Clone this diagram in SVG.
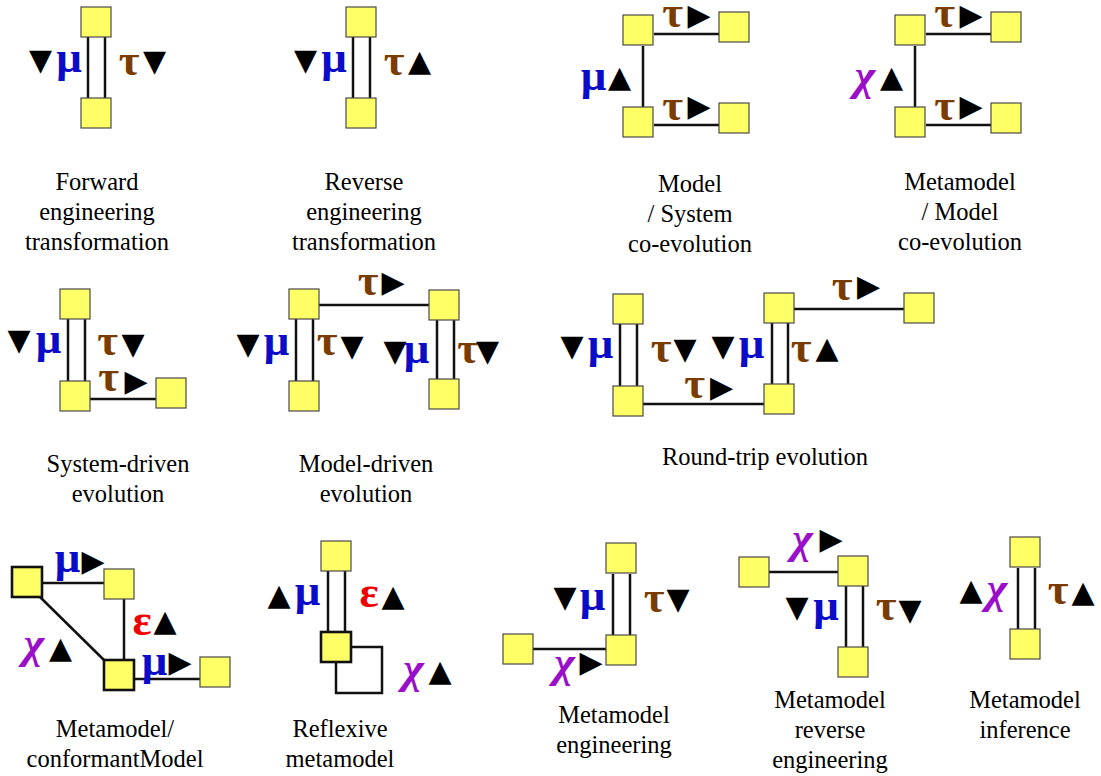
<svg xmlns="http://www.w3.org/2000/svg" width="1101" height="776" viewBox="0 0 1101 776">
  <style>
    .box { fill: #ffff66; stroke: #4a4a4a; stroke-width: 1.2; }
    .thick { stroke: #111; stroke-width: 2.6; }
    .ln { stroke: #111; stroke-width: 2.5; fill: none; }
    .cap { font-family: "Liberation Serif", "Times New Roman", serif; font-size: 24.5px; text-anchor: middle; fill: #000; }
    .g { font-family: "Liberation Serif", "Times New Roman", serif; font-size: 45px; font-weight: bold; text-anchor: middle; }
    .mu { fill: #0b0bc8; }
    .tau { fill: #7a3c00; }
    .chi { fill: #9a10c8; font-style: italic; }
    .eps { fill: #f00000; }
    .tri { font-family: "DejaVu Sans", sans-serif; font-size: 30px; text-anchor: middle; fill: #000; }
  </style>
  <rect width="1101" height="776" fill="#fff"/>

  <!-- Forward engineering transformation -->
  <g id="forward">
    <g id="forward-links">
      <line class="ln" x1="88" y1="37" x2="88" y2="98"/>
      <line class="ln" x1="105" y1="37" x2="105" y2="98"/>
    </g>
    <g id="forward-n1"><rect class="box" x="81" y="7" width="30" height="30"/></g>
    <g id="forward-n2"><rect class="box" x="81" y="98" width="30" height="30"/></g>
    <text class="tri" x="40.5" y="70">▼</text>
    <text class="g mu" x="69" y="72">μ</text>
    <text class="g tau" x="129" y="75">τ</text>
    <text class="tri" x="154.5" y="71">▼</text>
    <text class="cap" x="97" y="190">Forward</text>
    <text class="cap" x="97" y="220">engineering</text>
    <text class="cap" x="97" y="250">transformation</text>
  </g>

  <!-- Reverse engineering transformation -->
  <g id="reverse">
    <g id="reverse-links">
      <line class="ln" x1="353" y1="37" x2="353" y2="98"/>
      <line class="ln" x1="370" y1="37" x2="370" y2="98"/>
    </g>
    <g id="reverse-n1"><rect class="box" x="346" y="7" width="30" height="30"/></g>
    <g id="reverse-n2"><rect class="box" x="346" y="98" width="30" height="30"/></g>
    <text class="tri" x="305.5" y="70">▼</text>
    <text class="g mu" x="334" y="72">μ</text>
    <text class="g tau" x="394" y="75">τ</text>
    <text class="tri" x="419.5" y="71">▲</text>
    <text class="cap" x="364" y="190">Reverse</text>
    <text class="cap" x="364" y="220">engineering</text>
    <text class="cap" x="364" y="250">transformation</text>
  </g>

  <!-- Model / System co-evolution -->
  <g id="model-system">
    <g id="model-system-links">
      <line class="ln" x1="643" y1="46" x2="643" y2="107"/>
      <line class="ln" x1="654" y1="34" x2="719" y2="34"/>
      <line class="ln" x1="654" y1="125" x2="719" y2="125"/>
    </g>
    <g id="model-system-n1"><rect class="box" x="623" y="15" width="30" height="30"/></g>
    <g id="model-system-n2"><rect class="box" x="719" y="12" width="30" height="30"/></g>
    <g id="model-system-n3"><rect class="box" x="623" y="107" width="30" height="30"/></g>
    <g id="model-system-n4"><rect class="box" x="719" y="103" width="30" height="30"/></g>
    <text class="g mu" x="593.5" y="90">μ</text>
    <text class="tri" x="619.5" y="87">▲</text>
    <text class="g tau" x="672.5" y="27">τ</text>
    <text class="tri" x="699" y="25">▶</text>
    <text class="g tau" x="672.5" y="120">τ</text>
    <text class="tri" x="699" y="116">▶</text>
    <text class="cap" x="690" y="192">Model</text>
    <text class="cap" x="690" y="222">/ System</text>
    <text class="cap" x="690" y="252">co-evolution</text>
  </g>

  <!-- Metamodel / Model co-evolution -->
  <g id="metamodel-model">
    <g id="metamodel-model-links">
      <line class="ln" x1="915" y1="46" x2="915" y2="107"/>
      <line class="ln" x1="926" y1="34" x2="991" y2="34"/>
      <line class="ln" x1="926" y1="125" x2="991" y2="125"/>
    </g>
    <g id="metamodel-model-n1"><rect class="box" x="895" y="15" width="30" height="30"/></g>
    <g id="metamodel-model-n2"><rect class="box" x="991" y="12" width="30" height="30"/></g>
    <g id="metamodel-model-n3"><rect class="box" x="895" y="107" width="30" height="30"/></g>
    <g id="metamodel-model-n4"><rect class="box" x="991" y="103" width="30" height="30"/></g>
    <text class="g chi" x="865" y="90">χ</text>
    <text class="tri" x="891.5" y="87">▲</text>
    <text class="g tau" x="944.5" y="27">τ</text>
    <text class="tri" x="971" y="25">▶</text>
    <text class="g tau" x="944.5" y="120">τ</text>
    <text class="tri" x="971" y="116">▶</text>
    <text class="cap" x="960" y="190">Metamodel</text>
    <text class="cap" x="960" y="220">/ Model</text>
    <text class="cap" x="960" y="250">co-evolution</text>
  </g>

  <!-- System-driven evolution -->
  <g id="system-driven">
    <g id="system-driven-links">
      <line class="ln" x1="68" y1="319" x2="68" y2="381"/>
      <line class="ln" x1="85" y1="319" x2="85" y2="381"/>
      <line class="ln" x1="90" y1="399" x2="156" y2="399"/>
    </g>
    <g id="system-driven-n1"><rect class="box" x="60" y="289" width="30" height="30"/></g>
    <g id="system-driven-n2"><rect class="box" x="60" y="381" width="30" height="30"/></g>
    <g id="system-driven-n3"><rect class="box" x="156" y="378" width="30" height="30"/></g>
    <text class="tri" x="19" y="350">▼</text>
    <text class="g mu" x="48.5" y="353">μ</text>
    <text class="g tau" x="107.5" y="355">τ</text>
    <text class="tri" x="133" y="354">▼</text>
    <text class="g tau" x="108.5" y="391">τ</text>
    <text class="tri" x="136" y="391">▶</text>
    <text class="cap" x="118" y="472">System-driven</text>
    <text class="cap" x="118" y="502">evolution</text>
  </g>

  <!-- Model-driven evolution -->
  <g id="model-driven">
    <g id="model-driven-links">
      <line class="ln" x1="296" y1="319" x2="296" y2="381"/>
      <line class="ln" x1="313" y1="319" x2="313" y2="381"/>
      <line class="ln" x1="437" y1="320" x2="437" y2="379"/>
      <line class="ln" x1="454" y1="320" x2="454" y2="379"/>
      <line class="ln" x1="319" y1="305" x2="429" y2="305"/>
    </g>
    <g id="model-driven-n1"><rect class="box" x="289" y="289" width="30" height="30"/></g>
    <g id="model-driven-n2"><rect class="box" x="289" y="381" width="30" height="30"/></g>
    <g id="model-driven-n3"><rect class="box" x="429" y="290" width="30" height="30"/></g>
    <g id="model-driven-n4"><rect class="box" x="429" y="379" width="30" height="30"/></g>
    <text class="g tau" x="368" y="295">τ</text>
    <text class="tri" x="393" y="292">▶</text>
    <text class="tri" x="248" y="354">▼</text>
    <text class="g mu" x="276.5" y="355">μ</text>
    <text class="g tau" x="327" y="355">τ</text>
    <text class="tri" x="352" y="356">▼</text>
    <text class="tri" x="395" y="361">▼</text>
    <text class="g mu" x="416.5" y="363">μ</text>
    <text class="g tau" x="467.5" y="363">τ</text>
    <text class="tri" x="487.5" y="361">▼</text>
    <text class="cap" x="366" y="472">Model-driven</text>
    <text class="cap" x="366" y="502">evolution</text>
  </g>

  <!-- Round-trip evolution -->
  <g id="round-trip">
    <g id="round-trip-links">
      <line class="ln" x1="620" y1="324" x2="620" y2="386"/>
      <line class="ln" x1="637" y1="324" x2="637" y2="386"/>
      <line class="ln" x1="772" y1="323" x2="772" y2="384"/>
      <line class="ln" x1="788" y1="323" x2="788" y2="384"/>
      <line class="ln" x1="794" y1="309" x2="904" y2="309"/>
      <line class="ln" x1="643" y1="404" x2="764" y2="404"/>
    </g>
    <g id="round-trip-n1"><rect class="box" x="613" y="294" width="30" height="30"/></g>
    <g id="round-trip-n2"><rect class="box" x="613" y="386" width="30" height="30"/></g>
    <g id="round-trip-n3"><rect class="box" x="764" y="293" width="30" height="30"/></g>
    <g id="round-trip-n4"><rect class="box" x="764" y="384" width="30" height="30"/></g>
    <g id="round-trip-n5"><rect class="box" x="904" y="293" width="30" height="30"/></g>
    <text class="tri" x="572" y="356">▼</text>
    <text class="g mu" x="600.5" y="358">μ</text>
    <text class="g tau" x="661" y="362">τ</text>
    <text class="tri" x="685" y="359">▼</text>
    <text class="tri" x="723" y="356">▼</text>
    <text class="g mu" x="751.5" y="358">μ</text>
    <text class="g tau" x="801" y="362">τ</text>
    <text class="tri" x="827" y="358">▲</text>
    <text class="g tau" x="694.5" y="398">τ</text>
    <text class="tri" x="721.5" y="396.5">▶</text>
    <text class="g tau" x="842" y="300">τ</text>
    <text class="tri" x="868.5" y="296">▶</text>
    <text class="cap" x="765" y="465">Round-trip evolution</text>
  </g>

  <!-- Metamodel / conformant model -->
  <g id="conformant">
    <g id="conformant-links">
      <line class="ln" x1="43" y1="583" x2="104" y2="583"/>
      <line class="ln" x1="124" y1="599" x2="124" y2="660"/>
      <line class="ln" x1="40" y1="597" x2="105" y2="661"/>
      <line class="ln" x1="134" y1="679" x2="200" y2="679"/>
    </g>
    <g id="conformant-n1"><rect class="box thick" x="12" y="567" width="30" height="30"/></g>
    <g id="conformant-n2"><rect class="box" x="104" y="569" width="30" height="30"/></g>
    <g id="conformant-n3"><rect class="box thick" x="104" y="660" width="30" height="30"/></g>
    <g id="conformant-n4"><rect class="box" x="200" y="657" width="30" height="30"/></g>
    <text class="g mu" x="67.5" y="572">μ</text>
    <text class="tri" x="93" y="570.5">▶</text>
    <text class="g eps" x="142" y="635">ε</text>
    <text class="tri" x="165" y="631">▲</text>
    <text class="g chi" x="34" y="658">χ</text>
    <text class="tri" x="60.5" y="657.5">▲</text>
    <text class="g mu" x="154.5" y="675">μ</text>
    <text class="tri" x="180" y="671.5">▶</text>
    <text class="cap" x="115" y="737">Metamodel/</text>
    <text class="cap" x="115" y="767">conformantModel</text>
  </g>

  <!-- Reflexive metamodel -->
  <g id="reflexive">
    <g id="reflexive-links">
      <line class="ln" x1="328" y1="571" x2="328" y2="632"/>
      <line class="ln" x1="345" y1="571" x2="345" y2="632"/>
      <polyline class="ln" points="351,647 382,647 382,693 336,693 336,662"/>
    </g>
    <g id="reflexive-n1"><rect class="box" x="321" y="541" width="30" height="30"/></g>
    <g id="reflexive-n2"><rect class="box thick" x="321" y="632" width="30" height="30"/></g>
    <text class="tri" x="279" y="605">▲</text>
    <text class="g mu" x="307.5" y="605">μ</text>
    <text class="g eps" x="369" y="607">ε</text>
    <text class="tri" x="393" y="606">▲</text>
    <text class="g chi" x="413.5" y="683">χ</text>
    <text class="tri" x="440" y="681">▲</text>
    <text class="cap" x="340" y="737">Reflexive</text>
    <text class="cap" x="340" y="767">metamodel</text>
  </g>

  <!-- Metamodel engineering -->
  <g id="mm-engineering">
    <g id="mm-engineering-links">
      <line class="ln" x1="613" y1="574" x2="613" y2="635"/>
      <line class="ln" x1="630" y1="574" x2="630" y2="635"/>
      <line class="ln" x1="533" y1="649" x2="606" y2="649"/>
    </g>
    <g id="mm-engineering-n1"><rect class="box" x="606" y="543" width="30" height="30"/></g>
    <g id="mm-engineering-n2"><rect class="box" x="606" y="635" width="30" height="30"/></g>
    <g id="mm-engineering-n3"><rect class="box" x="503" y="634" width="30" height="30"/></g>
    <text class="tri" x="565" y="607">▼</text>
    <text class="g mu" x="592.5" y="610">μ</text>
    <text class="g tau" x="654" y="612">τ</text>
    <text class="tri" x="678" y="609">▼</text>
    <text class="g chi" x="564.5" y="677">χ</text>
    <text class="tri" x="591" y="672">▶</text>
    <text class="cap" x="614" y="723">Metamodel</text>
    <text class="cap" x="614" y="753">engineering</text>
  </g>

  <!-- Metamodel reverse engineering -->
  <g id="mm-reverse">
    <g id="mm-reverse-links">
      <line class="ln" x1="769" y1="572" x2="838" y2="572"/>
      <line class="ln" x1="846" y1="586" x2="846" y2="647"/>
      <line class="ln" x1="863" y1="586" x2="863" y2="647"/>
    </g>
    <g id="mm-reverse-n1"><rect class="box" x="739" y="557" width="30" height="30"/></g>
    <g id="mm-reverse-n2"><rect class="box" x="838" y="556" width="30" height="30"/></g>
    <g id="mm-reverse-n3"><rect class="box" x="838" y="647" width="30" height="30"/></g>
    <text class="g chi" x="802.5" y="553">χ</text>
    <text class="tri" x="831" y="549">▶</text>
    <text class="tri" x="797" y="617">▼</text>
    <text class="g mu" x="826" y="620">μ</text>
    <text class="g tau" x="886" y="620">τ</text>
    <text class="tri" x="910" y="620">▼</text>
    <text class="cap" x="830" y="708">Metamodel</text>
    <text class="cap" x="830" y="738">reverse</text>
    <text class="cap" x="830" y="768">engineering</text>
  </g>

  <!-- Metamodel inference -->
  <g id="mm-inference">
    <g id="mm-inference-links">
      <line class="ln" x1="1018" y1="568" x2="1018" y2="629"/>
      <line class="ln" x1="1035" y1="568" x2="1035" y2="629"/>
    </g>
    <g id="mm-inference-n1"><rect class="box" x="1010" y="537" width="30" height="30"/></g>
    <g id="mm-inference-n2"><rect class="box" x="1010" y="629" width="30" height="30"/></g>
    <text class="tri" x="971" y="599.5">▲</text>
    <text class="g chi" x="997" y="603">χ</text>
    <text class="g tau" x="1058" y="604">τ</text>
    <text class="tri" x="1083" y="601.5">▲</text>
    <text class="cap" x="1025" y="708">Metamodel</text>
    <text class="cap" x="1025" y="738">inference</text>
  </g>
</svg>
